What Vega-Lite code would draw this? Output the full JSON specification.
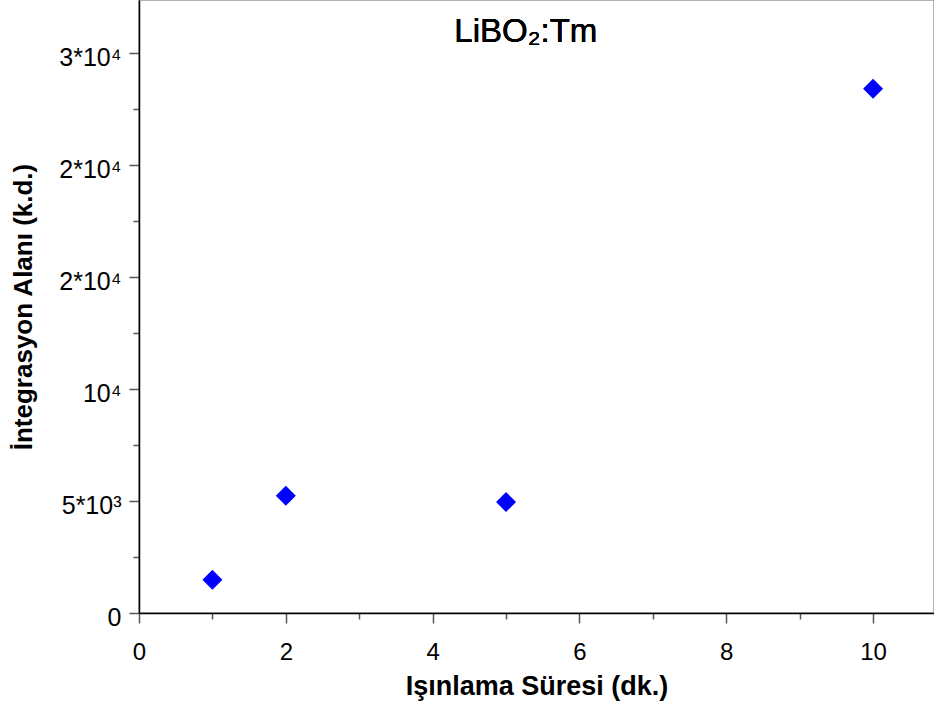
{
  "$schema": "https://vega.github.io/schema/vega-lite/v6.json",
  "width": 795,
  "height": 613,
  "autosize": {"type": "none"},
  "padding": {"left": 139, "top": 0, "right": 0, "bottom": 100},
  "background": "white",
  "config": {
    "view": {"stroke": "#9a9a9a", "strokeWidth": 1.5},
    "font": "Liberation Sans"
  },
  "data": {
    "values": [
      {"t": 1, "area": 1487},
      {"t": 2, "area": 5238},
      {"t": 5, "area": 4955},
      {"t": 10, "area": 23406}
    ]
  },
  "layer": [
    {
      "mark": {"type": "point", "shape": "diamond", "filled": true, "size": 400, "color": "#0000ff", "opacity": 1},
      "encoding": {
        "x": {
          "field": "t",
          "type": "quantitative",
          "scale": {"domain": [0, 10.83], "nice": false, "zero": false},
          "axis": {
            "values": [0, 1, 2, 3, 4, 5, 6, 7, 8, 9, 10],
            "format": "d",
            "labelExpr": "datum.value % 2 === 0 ? datum.label : ''",
            "title": "Işınlama Süresi (dk.)",
            "titleFont": "Liberation Sans",
            "titleFontSize": 27,
            "titleFontWeight": "bold",
            "titleColor": "black",
            "titlePadding": 9,
            "labelFont": "Liberation Sans",
            "labelFontSize": 24,
            "labelColor": "black",
            "labelPadding": 17,
            "labelFlush": false,
            "labelOverlap": false,
            "domainColor": "black",
            "domainWidth": 1.5,
            "tickColor": "#555555",
            "tickWidth": 1.5,
            "tickSize": {"condition": {"test": "datum.value % 2 === 1", "value": 6}, "value": 10},
            "grid": false
          }
        },
        "y": {
          "field": "area",
          "type": "quantitative",
          "scale": {"domain": [0, 27370], "nice": false},
          "axis": {
            "values": [0, 2500, 5000, 7500, 10000, 12500, 15000, 17500, 20000, 22500, 25000],
            "labelExpr": "datum.value === 0 ? '0' : datum.value === 5000 ? '5*10³' : datum.value === 10000 ? '10⁴' : datum.value === 15000 ? '2*10⁴' : datum.value === 20000 ? '2*10⁴' : datum.value === 25000 ? '3*10⁴' : ''",
            "title": "İntegrasyon Alanı (k.d.)",
            "titleFont": "Liberation Sans",
            "titleFontSize": 26,
            "titleFontWeight": "bold",
            "titleColor": "black",
            "titlePadding": 22,
            "labelFont": "Liberation Sans",
            "labelFontSize": 25,
            "labelColor": "black",
            "labelPadding": 8,
            "labelOffset": 4,
            "labelFlush": false,
            "labelOverlap": false,
            "domainColor": "black",
            "domainWidth": 1.5,
            "tickColor": "#555555",
            "tickWidth": 1.5,
            "tickSize": {"condition": {"test": "datum.value % 5000 !== 0", "value": 6}, "value": 10},
            "grid": false
          }
        }
      }
    },
    {
      "mark": {"type": "text", "text": "LiBO₂:Tm", "font": "Liberation Sans", "fontSize": 33, "color": "black", "baseline": "middle", "align": "center"},
      "encoding": {
        "x": {"datum": 5.27, "type": "quantitative"},
        "y": {"datum": 25950, "type": "quantitative"}
      }
    }
  ]
}
